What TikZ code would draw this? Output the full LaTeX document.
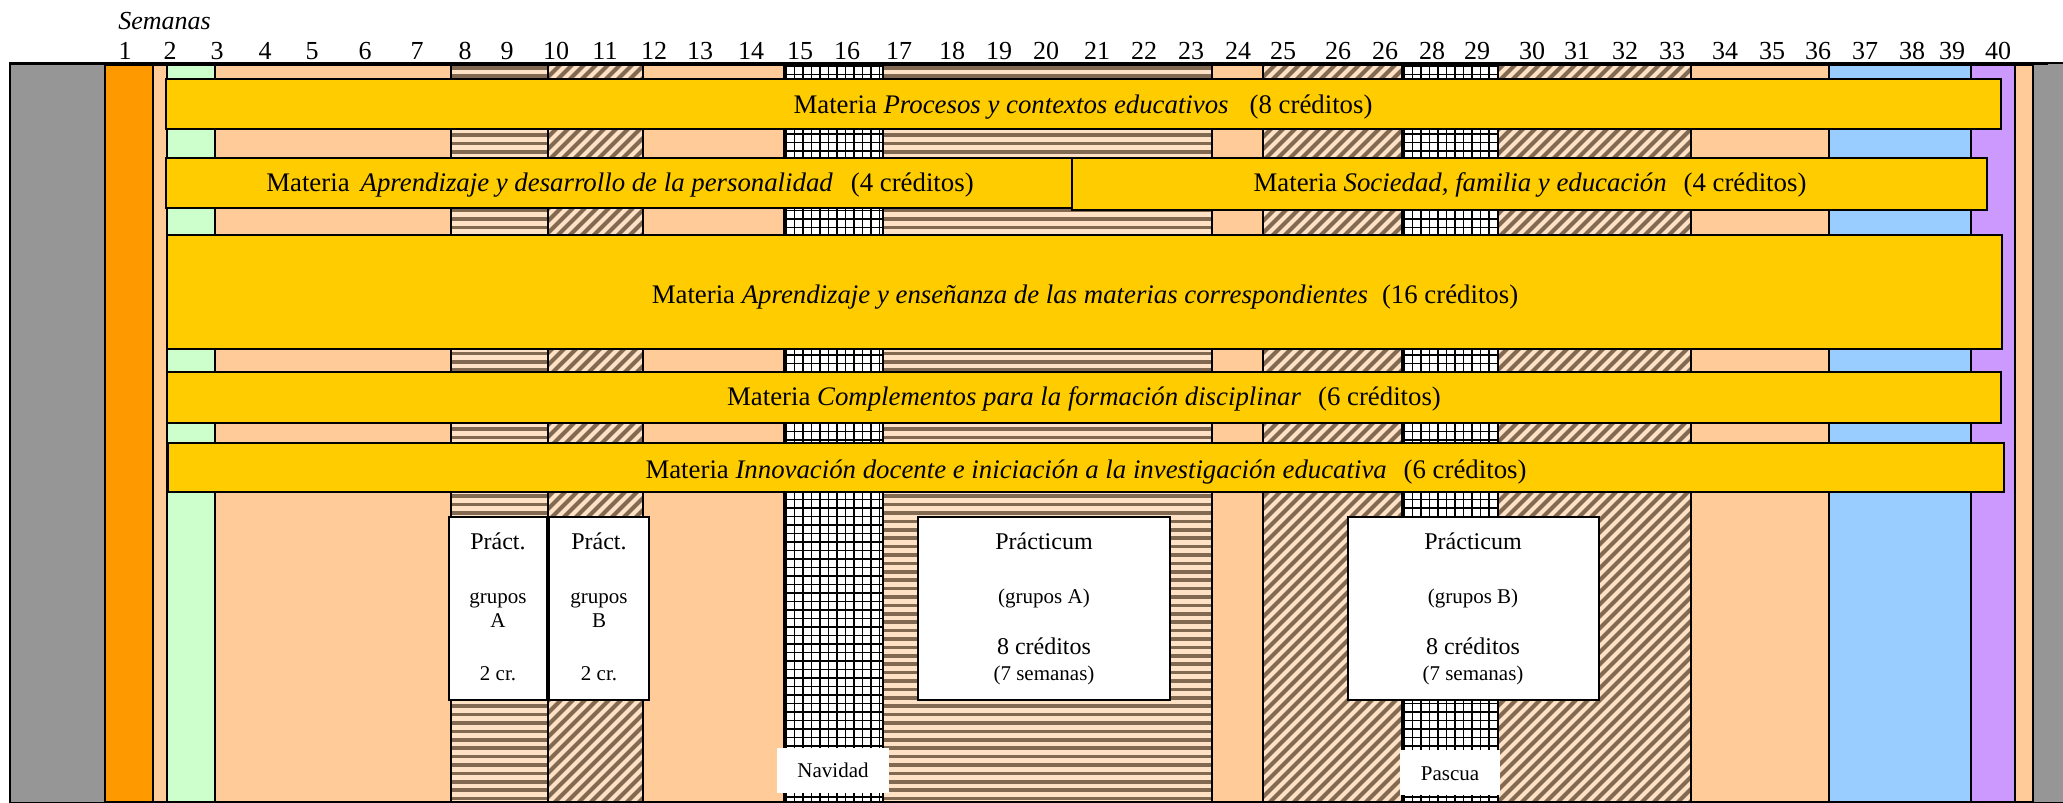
\documentclass[tikz,border=0pt]{standalone}
\usepackage{fontspec}
\setmainfont{Liberation Serif}
\definecolor{grayc}{RGB}{150,150,150}
\definecolor{orangec}{RGB}{255,153,0}
\definecolor{peach}{RGB}{255,204,153}
\definecolor{greenc}{RGB}{204,255,204}
\definecolor{yellowc}{RGB}{255,204,0}
\definecolor{bluec}{RGB}{153,204,255}
\definecolor{purplec}{RGB}{204,153,255}
\definecolor{stripebrown}{RGB}{130,106,82}
\definecolor{stripelight}{RGB}{255,226,198}
\newcommand\fbig{\fontsize{13}{15}\selectfont}
\newcommand\fbar{\fontsize{13.4}{15.5}\selectfont}
\newcommand\fmid{\fontsize{12}{14}\selectfont}
\newcommand\fsml{\fontsize{10.5}{12.5}\selectfont}
\newcommand\plaincol[3]{\draw[col,fill=#3] (#1,65) rectangle (#2,802);}
\newcommand\hstripecol[2]{%
  \begin{scope}
    \clip (#1,65) rectangle (#2,802);
    \fill[stripelight] (#1,65) rectangle (#2,802);
    \foreach \k in {0,...,90} \fill[stripebrown] (#1,66+\k*8.4) rectangle (#2,69.6+\k*8.4);
  \end{scope}
  \draw[col] (#1,65) rectangle (#2,802);}
\newcommand\diagcol[2]{%
  \begin{scope}
    \clip (#1,65) rectangle (#2,802);
    \fill[stripelight] (#1,65) rectangle (#2,802);
    \foreach \aa in {0,12,...,1212} \draw[stripebrown,line width=2.1pt] (#1-740+\aa,805) -- ++(760,-760);
  \end{scope}
  \draw[col] (#1,65) rectangle (#2,802);}
\newcommand\gridcol[2]{%
  \begin{scope}
    \clip (#1,65) rectangle (#2,802);
    \fill[white] (#1,65) rectangle (#2,802);
    \foreach \k in {0,...,13} \draw[line width=0.9pt] (#1+2+\k*8.5,60) -- ++(0,750);
    \foreach \k in {0,...,88} \draw[line width=0.9pt] (#1-5,66+\k*8.5) -- ++(120,0);
  \end{scope}
  \draw[col,line width=1.3pt] (#1,65) rectangle (#2,802);}
\begin{document}
\begin{tikzpicture}[x=0.5pt,y=-0.5pt,
  col/.style={draw=black,line width=1pt},
  bar/.style={draw=black,line width=1.2pt,fill=yellowc},
  box/.style={draw=black,line width=1.2pt,fill=white},
  txt/.style={inner sep=0pt,anchor=base},
  bartxt/.style={inner sep=0pt,anchor=base,font=\fbar},
  wk/.style={inner sep=0pt,anchor=base,font=\fbig}]
\useasboundingbox (0,0) rectangle (2063,803);
% columns
\draw[col,fill=grayc] (10,63) rectangle (105,803);
\plaincol{105}{153}{orangec}
\plaincol{153}{167}{peach}
\plaincol{167}{215}{greenc}
\plaincol{215}{451}{peach}
\hstripecol{451}{548}
\diagcol{548}{643}
\plaincol{643}{784}{peach}
\gridcol{784}{883}
\hstripecol{883}{1212}
\plaincol{1212}{1263}{peach}
\diagcol{1263}{1691}
\gridcol{1402}{1498}
\plaincol{1691}{1829}{peach}
\plaincol{1829}{1971}{bluec}
\plaincol{1971}{2015}{purplec}
\plaincol{2015}{2033}{peach}
\draw[col,fill=grayc] (2033,63) rectangle (2070,803);
\draw[line width=1.6pt] (10,63.5) -- (2048,63.5);
% header
\node[txt,anchor=base west,font=\fbig\itshape] (sem) at (118,29) {Semanas};
\foreach \n/\xx [count=\i] in {1/125,2/170,3/217,4/265,5/312,6/365,7/417,8/465,9/507,10/556,11/605,12/654,13/700,14/751,15/800,16/847,17/899,18/952,19/999,20/1046,21/1097,22/1144,23/1191,24/1238,25/1283,26/1338,26/1385,28/1432,29/1477,30/1532,31/1577,32/1625,33/1672,34/1725,35/1772,36/1818,37/1865,38/1912,39/1952,40/1998}
  \node[wk] (w\i) at (\xx,59) {\n};
% bars
\draw[bar] (166,79) rectangle (2001,129);
\node[bartxt] (t1) at (1083,113) {Materia \textit{Procesos y contextos educativos}\hspace{10.5pt}(8 créditos)};
\draw[bar] (166,158) rectangle (1072,208);
\node[bartxt] (t2a) at (620,191) {Materia\hspace{5.5pt}\textit{Aprendizaje y desarrollo de la personalidad}\hspace{9pt}(4 créditos)};
\draw[bar] (1072,158) rectangle (1987,210);
\node[bartxt] (t2b) at (1530,191) {Materia \textit{Sociedad, familia y educación}\hspace{8.5pt}(4 créditos)};
\draw[bar] (167,235) rectangle (2002,349);
\node[bartxt] (t3) at (1085,303) {Materia \textit{Aprendizaje y enseñanza de las materias correspondientes}\hspace{7pt}(16 créditos)};
\draw[bar] (167,372) rectangle (2001,423);
\node[bartxt] (t4) at (1084,405) {Materia \textit{Complementos para la formación disciplinar}\hspace{8.5pt}(6 créditos)};
\draw[bar] (168,443) rectangle (2004,492);
\node[bartxt] (t5) at (1086,478) {Materia \textit{Innovación docente e iniciación a la investigación educativa}\hspace{8.5pt}(6 créditos)};
% practice boxes
\draw[box] (449,517) rectangle (547,700);
\node[txt,font=\fmid] (pa1) at (498,549) {Práct.};
\node[txt,font=\fsml] (pa2) at (498,603) {grupos};
\node[txt,font=\fsml] (pa3) at (498,627) {A};
\node[txt,font=\fsml] (pa4) at (498,680) {2 cr.};
\draw[box] (549,517) rectangle (649,700);
\node[txt,font=\fmid] (pb1) at (599,549) {Práct.};
\node[txt,font=\fsml] (pb2) at (599,603) {grupos};
\node[txt,font=\fsml] (pb3) at (599,627) {B};
\node[txt,font=\fsml] (pb4) at (599,680) {2 cr.};
\draw[box] (918,517) rectangle (1170,700);
\node[txt,font=\fmid] (qa1) at (1044,549) {Prácticum};
\node[txt,font=\fsml] (qa2) at (1044,603) {(grupos A)};
\node[txt,font=\fmid] (qa3) at (1044,654) {8 créditos};
\node[txt,font=\fsml] (qa4) at (1044,680) {(7 semanas)};
\draw[box] (1348,517) rectangle (1599,700);
\node[txt,font=\fmid] (qb1) at (1473,549) {Prácticum};
\node[txt,font=\fsml] (qb2) at (1473,603) {(grupos B)};
\node[txt,font=\fmid] (qb3) at (1473,654) {8 créditos};
\node[txt,font=\fsml] (qb4) at (1473,680) {(7 semanas)};
% holidays
\fill[white] (777,748) rectangle (889,793);
\node[txt,font=\fsml] (nav) at (833,777) {Navidad};
\fill[white] (1400,750) rectangle (1500,795);
\node[txt,font=\fsml] (pas) at (1450,780) {Pascua};
\end{tikzpicture}
\end{document}
